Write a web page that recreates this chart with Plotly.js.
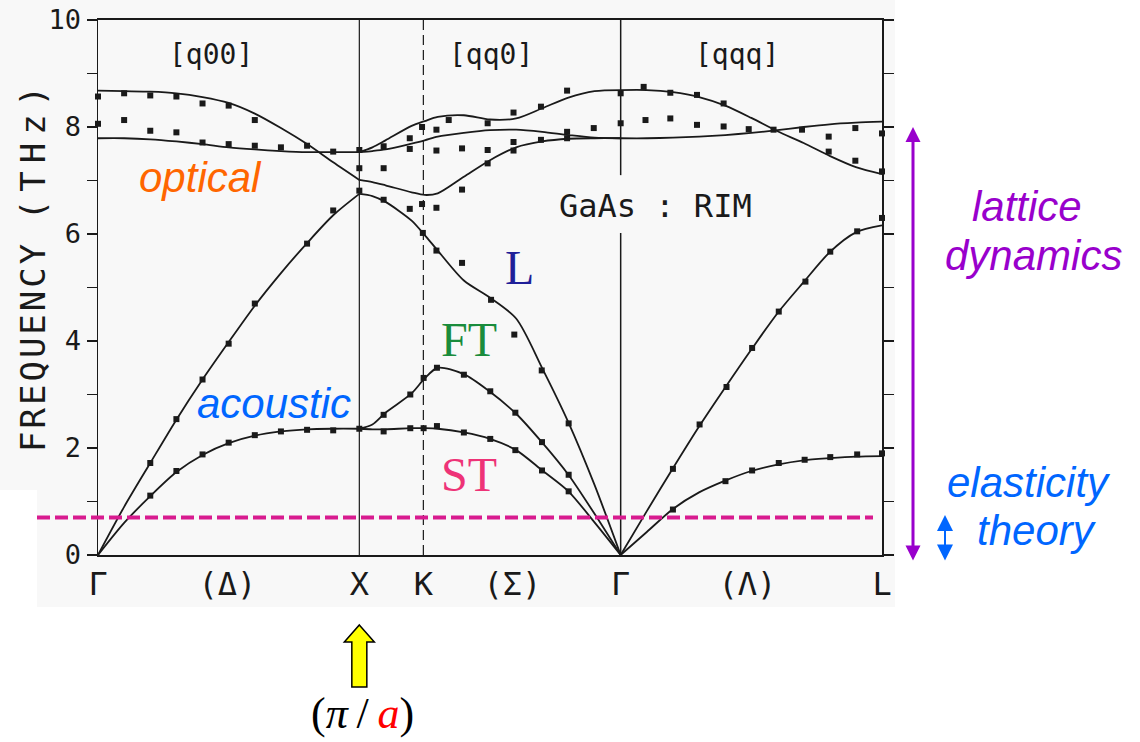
<!DOCTYPE html>
<html>
<head>
<meta charset="utf-8">
<script src="https://cdn.plot.ly/plotly-3.0.1.min.js"></script>
<style>html,body{margin:0;padding:0;background:#fff}</style>
</head>
<body>
<div id="chart" style="width:1140px;height:742px"></div>
<script>
// GaAs phonon dispersion (rigid-ion model) along Γ–X–K–Γ–L.
// Path coordinate: Γ=0, X=1, K=1.245, Γ=2, L=3.

const pointPos   = [0, 0.495, 1, 1.245, 1.586, 2, 2.485, 3];
const pointNames = ['Γ', '(Δ)', 'X', 'K', '(Σ)', 'Γ', '(Λ)', 'L'];
const xPoint = 1, kPoint = 1.245, gammaPoint = 2;

// [q00] direction, Γ → X
const qDelta  = [0, 0.1, 0.2, 0.3, 0.4, 0.5, 0.6, 0.7, 0.8, 0.9, 1.0];
const laDelta = [0, 0.90, 1.72, 2.53, 3.28, 3.98, 4.66, 5.27, 5.83, 6.35, 6.75];
const taDelta = [0, 0.60, 1.10, 1.55, 1.87, 2.09, 2.23, 2.31, 2.35, 2.36, 2.36];
const loDelta = [8.68, 8.67, 8.66, 8.63, 8.56, 8.45, 8.25, 7.98, 7.68, 7.34, 7.01];
const toDelta = [7.79, 7.79, 7.77, 7.73, 7.68, 7.62, 7.58, 7.55, 7.53, 7.53, 7.53];

// [qq0] direction, X → K → Γ
const qSigma   = [1.0, 1.05, 1.1, 1.2, 1.25, 1.3, 1.4, 1.5, 1.6, 1.7, 1.8, 1.9, 2.0];
const laSigma  = [6.75, 6.71, 6.60, 6.25, 5.98, 5.69, 5.13, 4.81, 4.42, 3.49, 2.48, 1.31, 0];
const ftSigma  = [2.36, 2.44, 2.66, 3.02, 3.30, 3.50, 3.38, 3.05, 2.64, 2.10, 1.50, 0.77, 0];
const stSigma  = [2.36, 2.35, 2.35, 2.37, 2.37, 2.36, 2.29, 2.17, 1.96, 1.58, 1.19, 0.61, 0];
const op1Sigma = [7.53, 7.62, 7.75, 8.02, 8.11, 8.19, 8.22, 8.14, 8.16, 8.35, 8.55, 8.67, 8.69];
const op2Sigma = [7.53, 7.55, 7.58, 7.69, 7.75, 7.82, 7.89, 7.94, 7.95, 7.91, 7.85, 7.80, 7.79];
const op3Sigma = [7.01, 6.97, 6.91, 6.78, 6.73, 6.76, 7.07, 7.38, 7.62, 7.73, 7.78, 7.79, 7.79];

// [qqq] direction, Γ → L
const qLambda  = [2.0, 2.1, 2.2, 2.3, 2.4, 2.5, 2.6, 2.7, 2.8, 2.9, 3.0];
const laLambda = [0, 0.82, 1.62, 2.40, 3.13, 3.84, 4.52, 5.10, 5.66, 6.03, 6.16];
const taLambda = [0, 0.43, 0.86, 1.17, 1.39, 1.57, 1.69, 1.77, 1.81, 1.84, 1.85];
const loLambda = [8.69, 8.69, 8.65, 8.56, 8.40, 8.17, 7.92, 7.70, 7.46, 7.25, 7.12];
const toLambda = [7.79, 7.79, 7.80, 7.82, 7.85, 7.89, 7.94, 8.00, 8.05, 8.08, 8.10];

// Measured frequencies (neutron scattering points)
const measDeltaQ = [0.2, 0.3, 0.4, 0.5, 0.6, 0.8, 0.9, 1.0,
                    0.2, 0.3, 0.4, 0.5, 0.6, 0.7, 0.8, 0.9, 1.0,
                    0.0, 0.1, 0.2, 0.3, 0.4, 0.5, 0.6,
                    0.0, 0.1, 0.2, 0.3,
                    0.4, 0.5, 0.6, 0.7, 0.8, 0.9, 1.0, 1.0];
const measDeltaF = [1.72, 2.54, 3.28, 3.95, 4.70, 5.82, 6.44, 6.81,
                    1.11, 1.57, 1.88, 2.10, 2.24, 2.31, 2.34, 2.33, 2.36,
                    8.57, 8.63, 8.59, 8.57, 8.44, 8.40, 8.13,
                    8.06, 8.13, 7.93, 7.90,
                    7.71, 7.68, 7.65, 7.62, 7.65, 7.54, 7.57, 7.23];

const measSigmaQ = [1.093, 1.243, 1.295, 1.393, 1.504, 1.593, 1.698, 1.801,
                    1.093, 1.195, 1.246, 1.297, 1.400, 1.501, 1.597, 1.699, 1.801,
                    1.093, 1.195, 1.246, 1.297, 1.400, 1.501, 1.597, 1.699, 1.801,
                    1.093, 1.093, 1.193, 1.193, 1.240, 1.295, 1.295, 1.342, 1.393,
                    1.491, 1.491, 1.491, 1.590, 1.590, 1.590, 1.695, 1.695,
                    1.795, 1.795, 1.795, 1.897,
                    1.193, 1.240, 1.295, 1.393];
const measSigmaF = [6.64, 6.02, 5.69, 5.46, 4.77, 4.12, 3.45, 2.46,
                    2.62, 3.00, 3.31, 3.50, 3.37, 3.06, 2.66, 2.11, 1.50,
                    2.31, 2.37, 2.37, 2.41, 2.29, 2.17, 1.96, 1.58, 1.19,
                    7.64, 7.23, 7.79, 7.59, 8.00, 7.95, 7.56, 8.13, 7.60,
                    8.07, 7.57, 7.32, 8.27, 7.72, 7.56, 8.38, 7.76,
                    8.68, 7.91, 7.79, 7.98,
                    6.47, 6.56, 6.49, 6.83];

const measLambdaQ = [2.2, 2.302, 2.405, 2.503, 2.605, 2.707, 2.802, 2.905, 3.0,
                     2.2, 2.401, 2.503, 2.605, 2.704, 2.802, 2.905, 3.0,
                     2.0, 2.088, 2.19, 2.292, 2.394,
                     2.0, 2.095, 2.19, 2.292, 2.394, 2.49, 2.585, 2.694,
                     2.796, 2.796, 2.898, 2.898, 3.0, 3.0];
const measLambdaF = [1.61, 2.44, 3.14, 3.87, 4.55, 5.11, 5.67, 6.05, 6.30,
                     0.85, 1.38, 1.58, 1.72, 1.78, 1.83, 1.88, 1.90,
                     8.63, 8.75, 8.64, 8.60, 8.44,
                     8.07, 8.13, 8.16, 8.04, 8.01, 7.96, 7.95, 7.95,
                     7.82, 7.54, 7.98, 7.37, 7.88, 7.17];

// Upper limit of the elastic (long-wavelength) regime, THz
const elasticLimit = 0.7;
// Vertical extent of the two range arrows, THz
const latticeRange = [-0.13, 8.0];
const elasticRange = [-0.13, 0.75];

// ---------------------------------------------------------------
const ink = '#1a1a1a';
const mono = 'DejaVu Sans Mono, monospace';
const sans = 'Liberation Sans, Arial, sans-serif';
const serif = 'Liberation Serif, Times New Roman, serif';

// plot box in pixels (for placing decorations outside the axes)
const M = {l: 98, r: 258, t: 20, b: 187};
const W = 1140, H = 742;
const plotW = W - M.l - M.r, plotH = H - M.t - M.b;
const pxX = px => (px - M.l) / plotW;
const pxY = py => (H - M.b - py) / plotH;

function curve(xs, ys) {
  return {x: xs, y: ys, type: 'scatter', mode: 'lines',
          line: {color: ink, width: 1.8, shape: 'spline', smoothing: 0.8},
          hoverinfo: 'skip', showlegend: false};
}

const traces = [
  curve(qDelta, laDelta), curve(qDelta, taDelta), curve(qDelta, loDelta), curve(qDelta, toDelta),
  curve(qSigma, laSigma), curve(qSigma, ftSigma), curve(qSigma, stSigma),
  curve(qSigma, op1Sigma), curve(qSigma, op2Sigma), curve(qSigma, op3Sigma),
  curve(qLambda, laLambda), curve(qLambda, taLambda), curve(qLambda, loLambda), curve(qLambda, toLambda),
  {x: measDeltaQ.concat(measSigmaQ, measLambdaQ),
   y: measDeltaF.concat(measSigmaF, measLambdaF),
   type: 'scatter', mode: 'markers', cliponaxis: false,
   marker: {symbol: 'square', size: 6, color: ink},
   hoverinfo: 'skip', showlegend: false}
];

// yellow block arrow under X (half-widths in path units: 3 units span plotW px)
const arrowTip = pxY(625), arrowNeck = pxY(642), arrowEnd = pxY(687);
const headHalf = 15 * 3 / plotW, shaftHalf = 7.5 * 3 / plotW;
const yellowArrow = 'M' + xPoint + ',' + arrowTip +
  ' L' + (xPoint + headHalf) + ',' + arrowNeck +
  ' L' + (xPoint + shaftHalf) + ',' + arrowNeck +
  ' L' + (xPoint + shaftHalf) + ',' + arrowEnd +
  ' L' + (xPoint - shaftHalf) + ',' + arrowEnd +
  ' L' + (xPoint - shaftHalf) + ',' + arrowNeck +
  ' L' + (xPoint - headHalf) + ',' + arrowNeck + ' Z';

const sheet = '#f8f8f8';
const shapes = [
  // scanned-sheet tone behind the figure
  {type: 'rect', xref: 'paper', yref: 'paper', layer: 'below',
   x0: pxX(0), x1: pxX(895), y0: pxY(490), y1: pxY(0), fillcolor: sheet, line: {width: 0}},
  {type: 'rect', xref: 'paper', yref: 'paper', layer: 'below',
   x0: pxX(37), x1: pxX(895), y0: pxY(607), y1: pxY(490), fillcolor: sheet, line: {width: 0}},
  // symmetry-point separators
  {type: 'line', xref: 'x', yref: 'y', x0: xPoint, x1: xPoint, y0: 0, y1: 10, line: {color: ink, width: 1.2}},
  {type: 'line', xref: 'x', yref: 'y', x0: kPoint, x1: kPoint, y0: 0, y1: 10, line: {color: ink, width: 1.2, dash: '10px,5px'}},
  {type: 'line', xref: 'x', yref: 'y', x0: gammaPoint, x1: gammaPoint, y0: 7.1, y1: 10, line: {color: ink, width: 1.5}},
  {type: 'line', xref: 'x', yref: 'y', x0: gammaPoint, x1: gammaPoint, y0: 0, y1: 6.02, line: {color: ink, width: 1.5}},
  // elastic limit
  {type: 'line', xref: 'paper', yref: 'y', x0: pxX(37), x1: pxX(873), y0: elasticLimit, y1: elasticLimit,
   line: {color: '#d81b8f', width: 4, dash: '13px,5px'}},
  // marker for the zone boundary π/a
  {type: 'path', xref: 'x', yref: 'paper', path: yellowArrow,
   fillcolor: '#ffff00', line: {color: '#000', width: 1.5}}
];

function label(text, x, y, font, extra) {
  return Object.assign({text: text, x: x, y: y, xref: 'x', yref: 'y', showarrow: false,
                        xanchor: 'center', yanchor: 'middle', font: font}, extra || {});
}
function note(text, px, py, font, extra) {
  return Object.assign({text: text, x: pxX(px), y: pxY(py), xref: 'paper', yref: 'paper', showarrow: false,
                        xanchor: 'center', yanchor: 'middle', font: font}, extra || {});
}

const annotations = [
  label('[q00]', 0.4305, 9.35, {family: mono, size: 28, color: ink}),
  label('[qq0]', 1.504, 9.35, {family: mono, size: 28, color: ink}),
  label('[qqq]', 2.447, 9.35, {family: mono, size: 28, color: ink}),
  label('GaAs : RIM', 2.135, 6.52, {family: mono, size: 32, color: ink}),
  label('<i>optical</i>', 0.394, 7.06, {family: sans, size: 42, color: '#ff6600'}),
  label('<i>acoustic</i>', 0.675, 2.84, {family: sans, size: 42, color: '#0066ff'}),
  label('L', 1.613, 5.37, {family: serif, size: 48, color: '#1f1f99'}),
  label('FT', 1.418, 4.03, {family: serif, size: 48, color: '#1a8c3c'}),
  label('ST', 1.418, 1.50, {family: serif, size: 48, color: '#ee3377'}),
  // axis title
  note('<span style="letter-spacing:3px">FREQUENCY</span>\u00a0<span style="letter-spacing:8px">(THz)</span>',
       33, 265, {family: mono, size: 34, color: ink}, {textangle: -90}),
  // range arrows and their captions
  {text: '', xref: 'paper', yref: 'y', x: pxX(913), y: latticeRange[1],
   axref: 'pixel', ax: 0, ayref: 'y', ay: latticeRange[0],
   showarrow: true, arrowhead: 2, startarrowhead: 2, arrowside: 'end+start', arrowwidth: 3,
   arrowsize: 1, startarrowsize: 1, arrowcolor: '#9900cc', standoff: 0, startstandoff: 0},
  {text: '', xref: 'paper', yref: 'y', x: pxX(945), y: elasticRange[1],
   axref: 'pixel', ax: 0, ayref: 'y', ay: elasticRange[0],
   showarrow: true, arrowhead: 2, startarrowhead: 2, arrowside: 'end+start', arrowwidth: 2,
   arrowsize: 1.6, startarrowsize: 1.6, arrowcolor: '#0066ff', standoff: 0, startstandoff: 0},
  note('<i>lattice</i>', 1027, 207, {family: sans, size: 42, color: '#9900cc'}),
  note('<i>dynamics</i>', 1033, 256, {family: sans, size: 42, color: '#9900cc'}),
  note('<i>elasticity</i>', 1029, 482, {family: sans, size: 42, color: '#0066ff'}),
  note('<i>theory</i>', 1037, 530, {family: sans, size: 42, color: '#0066ff'}),
  // zone boundary label
  Object.assign(label('(<i>π</i>\u2009/\u2009<i><span style="color:#ff0000">a</span></i>)', xPoint, pxY(713),
                      {family: serif, size: 44, color: '#000'}), {yref: 'paper', xshift: 3})
];

const layout = {
  width: W, height: H,
  margin: M,
  paper_bgcolor: '#ffffff',
  plot_bgcolor: 'rgba(0,0,0,0)',
  showlegend: false,
  hovermode: false,
  xaxis: {
    range: [0, 3], showgrid: false, zeroline: false,
    showline: true, linecolor: ink, linewidth: 2, mirror: true,
    ticks: '', tickvals: pointPos, ticktext: pointNames,
    tickfont: {family: mono, size: 32, color: ink}
  },
  yaxis: {
    range: [0, 10], showgrid: false, zeroline: false,
    showline: true, linecolor: ink, linewidth: 1.5, mirror: 'ticks',
    ticks: 'outside', ticklen: 10, tickwidth: 1.5, tickcolor: ink,
    tickvals: [0,1,2,3,4,5,6,7,8,9,10],
    ticktext: ['0','','2','','4','','6','','8','','10'],
    tickfont: {family: mono, size: 27, color: ink}
  },
  shapes: shapes,
  annotations: annotations
};

Plotly.newPlot('chart', traces, layout, {displayModeBar: false, staticPlot: true});
</script>
</body>
</html>
